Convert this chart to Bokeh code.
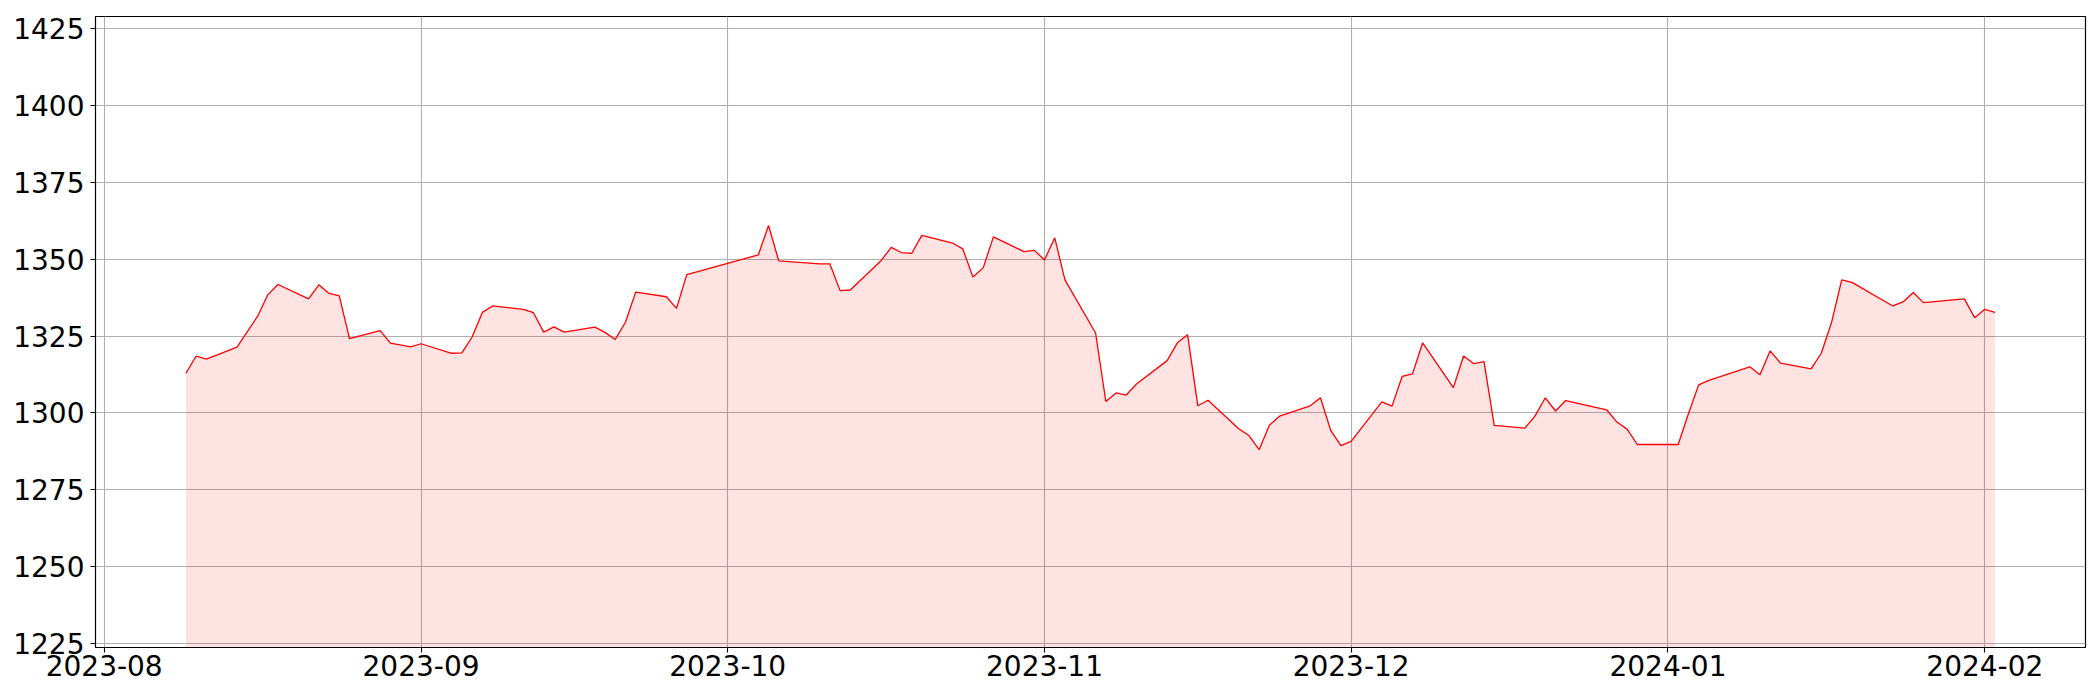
import pandas as pd
from bokeh.plotting import figure
from bokeh.models import Range1d, SingleIntervalTicker, MonthsTicker, DatetimeTickFormatter
from bokeh.embed import file_html
from bokeh.resources import INLINE

dates = [
    "2023-08-09", "2023-08-10", "2023-08-11", "2023-08-14", "2023-08-16", "2023-08-17",
    "2023-08-18", "2023-08-21", "2023-08-22", "2023-08-23", "2023-08-24", "2023-08-25",
    "2023-08-28", "2023-08-29", "2023-08-31", "2023-09-01", "2023-09-04", "2023-09-05",
    "2023-09-06", "2023-09-07", "2023-09-08", "2023-09-11", "2023-09-12", "2023-09-13",
    "2023-09-14", "2023-09-15", "2023-09-18", "2023-09-19", "2023-09-20", "2023-09-21",
    "2023-09-22", "2023-09-25", "2023-09-26", "2023-09-27", "2023-10-04", "2023-10-05",
    "2023-10-06", "2023-10-10", "2023-10-11", "2023-10-12", "2023-10-13", "2023-10-16",
    "2023-10-17", "2023-10-18", "2023-10-19", "2023-10-20", "2023-10-23", "2023-10-24",
    "2023-10-25", "2023-10-26", "2023-10-27", "2023-10-30", "2023-10-31", "2023-11-01",
    "2023-11-02", "2023-11-03", "2023-11-06", "2023-11-07", "2023-11-08", "2023-11-09",
    "2023-11-10", "2023-11-13", "2023-11-14", "2023-11-15", "2023-11-16", "2023-11-17",
    "2023-11-20", "2023-11-21", "2023-11-22", "2023-11-23", "2023-11-24", "2023-11-27",
    "2023-11-28", "2023-11-29", "2023-11-30", "2023-12-01", "2023-12-04", "2023-12-05",
    "2023-12-06", "2023-12-07", "2023-12-08", "2023-12-11", "2023-12-12", "2023-12-13",
    "2023-12-14", "2023-12-15", "2023-12-18", "2023-12-19", "2023-12-20", "2023-12-21",
    "2023-12-22", "2023-12-26", "2023-12-27", "2023-12-28", "2023-12-29", "2024-01-02",
    "2024-01-03", "2024-01-04", "2024-01-05", "2024-01-09", "2024-01-10", "2024-01-11",
    "2024-01-12", "2024-01-15", "2024-01-16", "2024-01-17", "2024-01-18", "2024-01-19",
    "2024-01-23", "2024-01-24", "2024-01-25", "2024-01-26", "2024-01-30", "2024-01-31",
    "2024-02-01", "2024-02-02",
]

values = [
    1312.9, 1318.5, 1317.5, 1321.4, 1331.4, 1338.4,
    1341.8, 1337.1, 1341.7, 1338.9, 1338.1, 1324.2,
    1326.8, 1322.7, 1321.5, 1322.5, 1319.4, 1319.5,
    1324.7, 1332.7, 1334.8, 1333.7, 1332.6, 1326.3,
    1328.0, 1326.3, 1327.9, 1326.2, 1323.9, 1329.5,
    1339.3, 1337.8, 1334.0, 1345.0, 1351.4, 1361.0,
    1349.5, 1348.5, 1348.5, 1339.8, 1340.0, 1349.5,
    1353.9, 1352.2, 1351.9, 1357.8, 1355.3, 1353.4,
    1344.2, 1347.2, 1357.3, 1352.5, 1352.9, 1349.8,
    1357.0, 1343.3, 1326.0, 1303.7, 1306.5, 1305.8,
    1309.4, 1317.0, 1322.8, 1325.4, 1302.3, 1304.1,
    1294.8, 1292.6, 1288.0, 1296.0, 1298.9, 1302.3,
    1304.9, 1294.3, 1289.3, 1290.7, 1303.6, 1302.2,
    1311.9, 1312.7, 1322.8, 1308.2, 1318.5, 1316.0,
    1316.7, 1295.9, 1295.0, 1299.0, 1304.9, 1300.6,
    1304.0, 1301.0, 1297.0, 1294.7, 1289.7, 1289.7,
    1299.7, 1309.1, 1310.6, 1315.0, 1312.4, 1320.2,
    1316.2, 1314.3, 1319.4, 1329.4, 1343.3, 1342.5,
    1334.8, 1336.1, 1339.2, 1335.9, 1337.1, 1331.0,
    1333.7, 1332.7,
]

x = pd.to_datetime(pd.Series(dates))
y_lo = min(values) * 0.95
y_hi = max(values) * 1.05
span = x.max() - x.min()
x_lo = x.min() - span * 0.05
x_hi = x.max() + span * 0.05

FONT = "DejaVu Sans"

p = figure(
    width=2092, height=692,
    x_axis_type="datetime",
    x_range=Range1d(x_lo, x_hi),
    y_range=Range1d(y_lo, y_hi),
    output_backend="svg", toolbar_location=None,
    min_border_left=95, min_border_right=7, min_border_top=16, min_border_bottom=45,
    background_fill_color="white", border_fill_color="white",
)

p.varea(x=x, y1=[y_lo] * len(values), y2=values, fill_color="red", fill_alpha=0.11)
p.line(x=x, y=values, line_color="red", line_width=1.3)

p.outline_line_color = "black"
p.outline_line_width = 1.2
p.outline_line_alpha = 1.0

p.xaxis.ticker = MonthsTicker(months=list(range(12)))
p.xaxis.formatter = DatetimeTickFormatter(months="%Y-%m", days="%Y-%m")
p.yaxis.ticker = SingleIntervalTicker(interval=25)

for ax in (p.xaxis, p.yaxis):
    ax.axis_line_color = None
    ax.major_tick_line_color = "black"
    ax.major_tick_line_width = 1.1
    ax.major_tick_out = 5
    ax.major_tick_in = 0
    ax.minor_tick_line_color = None
    ax.major_label_text_font = FONT
    ax.major_label_text_font_size = "28px"
    ax.major_label_text_color = "black"

p.yaxis.major_label_standoff = 6
p.xaxis.major_label_standoff = 2

p.xgrid.ticker = MonthsTicker(months=list(range(12)))
p.ygrid.ticker = SingleIntervalTicker(interval=25)
for g in (p.xgrid, p.ygrid):
    g.grid_line_color = "#b0b0b0"
    g.grid_line_width = 1.1

open("out.html", "w").write(file_html(p, INLINE))
